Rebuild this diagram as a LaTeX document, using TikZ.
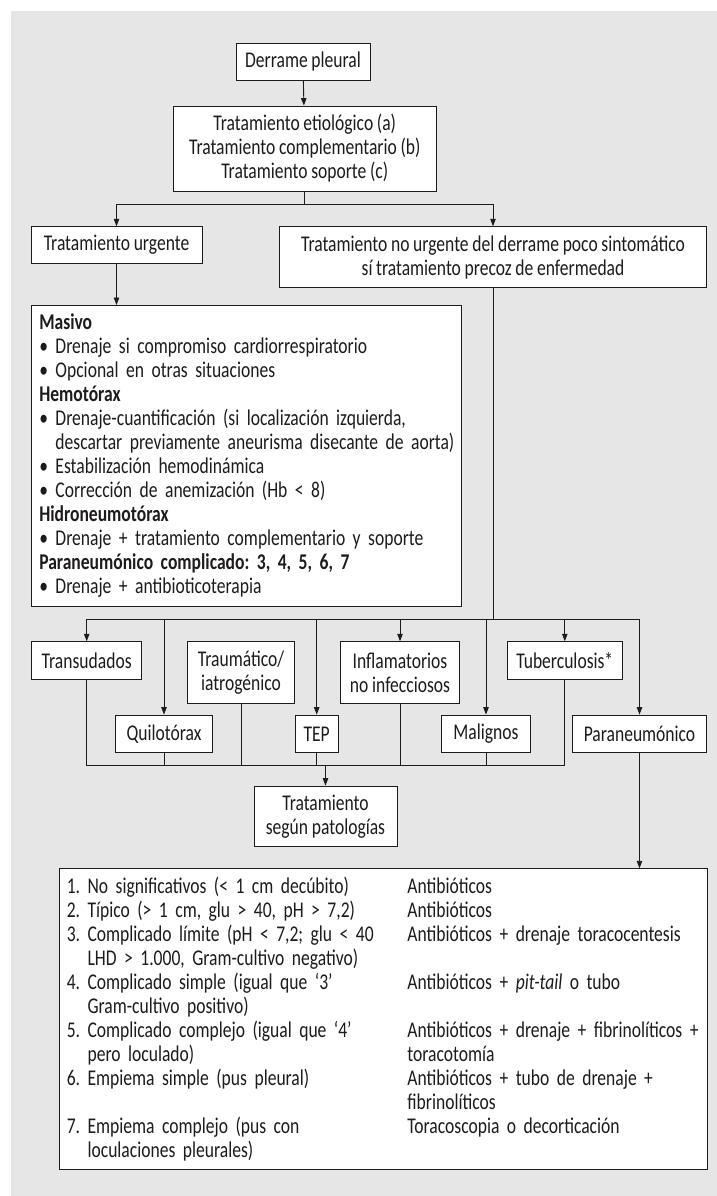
\documentclass[tikz,border=0pt]{standalone}
\usepackage{fontspec}
\setmainfont{Carlito}[FakeStretch=0.78]
\usetikzlibrary{arrows.meta,calc}
\definecolor{panelgrey}{RGB}{230,230,230}
\definecolor{inkgrey}{RGB}{30,27,28}
\newcommand{\figfont}{\fontsize{22.5bp}{24bp}\selectfont\frenchspacing\spaceskip=3.7bp plus 1.5bp minus 1bp\relax}
\newcommand{\rowtext}[1]{\makebox[0pt][l]{#1}}
\newcommand{\bul}[1]{\rowtext{• #1}}
\newcommand{\tabrow}[2]{\makebox[340.7bp][l]{#1}\rowtext{#2}}
\newcommand{\numgap}{\phantom{3. }}
\newcommand{\bulgap}{\phantom{• }}

\begin{document}
\begin{tikzpicture}[x=1bp, y=-1bp, >={Triangle[length=7.5bp,width=5.5bp]},
		font=\figfont,
		box/.style={draw=inkgrey, fill=white, line width=0.9bp, inner sep=0pt, align=center, text=inkgrey},
		listbox/.style={draw=inkgrey, fill=white, line width=0.9bp, anchor=north west, align=left, inner xsep=7.8bp, inner ysep=0pt, text=inkgrey},
		conn/.style={draw=inkgrey, line width=0.9bp}]
			\useasboundingbox (0,0) rectangle (717,1196);
			\fill[panelgrey] (11,11) rectangle (717,1196);

			\node[box, minimum width=134bp, minimum height=37bp] (derrame) at (303,61.5) {Derrame pleural};
			\node[box, minimum width=263.5bp, minimum height=85bp] (etiol) at (304.75,148.5) {Tratamiento etiológico (a)\\Tratamiento complementario (b)\\Tratamiento soporte (c)};
			\node[box, minimum width=171bp, minimum height=36.6bp] (urgente) at (116.5,245) {Tratamiento urgente};
			\node[box, minimum width=427bp, minimum height=60.6bp] (nourg) at (493,257) {Tratamiento no urgente del derrame poco sintomático\\sí tratamiento precoz de enfermedad};

			\node[listbox, text width=414.2bp, minimum height=301bp] (masivo) at (31,305) {%
				\rowtext{\textbf{Masivo}}\\
				\bul{Drenaje si compromiso cardiorrespiratorio}\\
				\bul{Opcional en otras situaciones}\\
				\rowtext{\textbf{Hemotórax}}\\
				\bul{Drenaje-cuantificación (si localización izquierda,}\\
				\rowtext{\bulgap descartar previamente aneurisma disecante de aorta)}\\
				\bul{Estabilización hemodinámica}\\
				\bul{Corrección de anemización (Hb < 8)}\\
				\rowtext{\textbf{Hidroneumotórax}}\\
				\bul{Drenaje + tratamiento complementario y soporte}\\
				\rowtext{\textbf{Paraneumónico complicado: 3, 4, 5, 6, 7}}\\
				\bul{Drenaje + antibioticoterapia}};

			\node[box, minimum width=110bp, minimum height=37.6bp] (transud) at (86.7,660.5) {Transudados};
			\node[box, minimum width=106.6bp, minimum height=61.6bp] (traum) at (241,672.5) {Traumático/\\iatrogénico};
			\node[box, minimum width=119bp, minimum height=61.6bp] (inflam) at (400,672.5) {Inflamatorios\\no infecciosos};
			\node[box, minimum width=115bp, minimum height=37.6bp] (tuberc) at (564.8,660.5) {Tuberculosis*};
			\node[box, minimum width=96.3bp, minimum height=37.7bp] (quilo) at (164,733.9) {Quilotórax};
			\node[box, minimum width=43.3bp, minimum height=37.7bp] (tep) at (316.7,733.9) {TEP};
			\node[box, minimum width=89bp, minimum height=37.7bp] (malig) at (486,733.9) {Malignos};
			\node[box, minimum width=134.4bp, minimum height=37.7bp] (paran) at (639.5,733.9) {Paraneumónico};
			\node[box, minimum width=143bp, minimum height=60.7bp] (segun) at (325.5,816.4) {Tratamiento\\según patologías};

			\node[listbox, text width=632.4bp, minimum height=301bp] (tabla) at (58.5,868.3) {%
				\tabrow{1. No significativos (< 1 cm decúbito)}{Antibióticos}\\
				\tabrow{2. Típico (> 1 cm, glu > 40, pH > 7,2)}{Antibióticos}\\
				\tabrow{3. Complicado límite (pH < 7,2; glu < 40}{Antibióticos + drenaje toracocentesis}\\
				\tabrow{\numgap LHD > 1.000, Gram-cultivo negativo)}{}\\
				\tabrow{4. Complicado simple (igual que ‘3’}{Antibióticos + \emph{pit-tail} o tubo}\\
				\tabrow{\numgap Gram-cultivo positivo)}{}\\
				\tabrow{5. Complicado complejo (igual que ‘4’}{Antibióticos + drenaje + fibrinolíticos +}\\
				\tabrow{\numgap pero loculado)}{toracotomía}\\
				\tabrow{6. Empiema simple (pus pleural)}{Antibióticos + tubo de drenaje +}\\
				\tabrow{}{fibrinolíticos}\\
				\tabrow{7. Empiema complejo (pus con}{Toracoscopia o decorticación}\\
				\tabrow{\numgap loculaciones pleurales)}{}};

			\draw[conn,->] (derrame) -- (etiol);
			\draw[conn,->] (etiol.south) -- ++(0,13.3) -| (urgente.north);
			\draw[conn,->] (etiol.south) -- ++(0,13.3) -| (nourg.north);
			\draw[conn,->] (urgente.south) -- (urgente.south |- masivo.north);

			\coordinate (fork) at (493,619.3);
			\draw[conn] (nourg.south) -- (fork);
			\foreach \n in {transud,quilo,tep,inflam,malig,tuberc,paran} {
				\draw[conn,->] (fork) -| (\n.north);
			}

			\coordinate (merge) at (325.5,765.3);
			\foreach \n in {transud,quilo,traum,tep,inflam,malig,tuberc} {
				\draw[conn] (\n.south) |- (merge);
			}
			\draw[conn,->] (merge) -- (segun.north);
			\draw[conn,->] (paran.south) -- (paran.south |- tabla.north);
		\end{tikzpicture}
\end{document}
